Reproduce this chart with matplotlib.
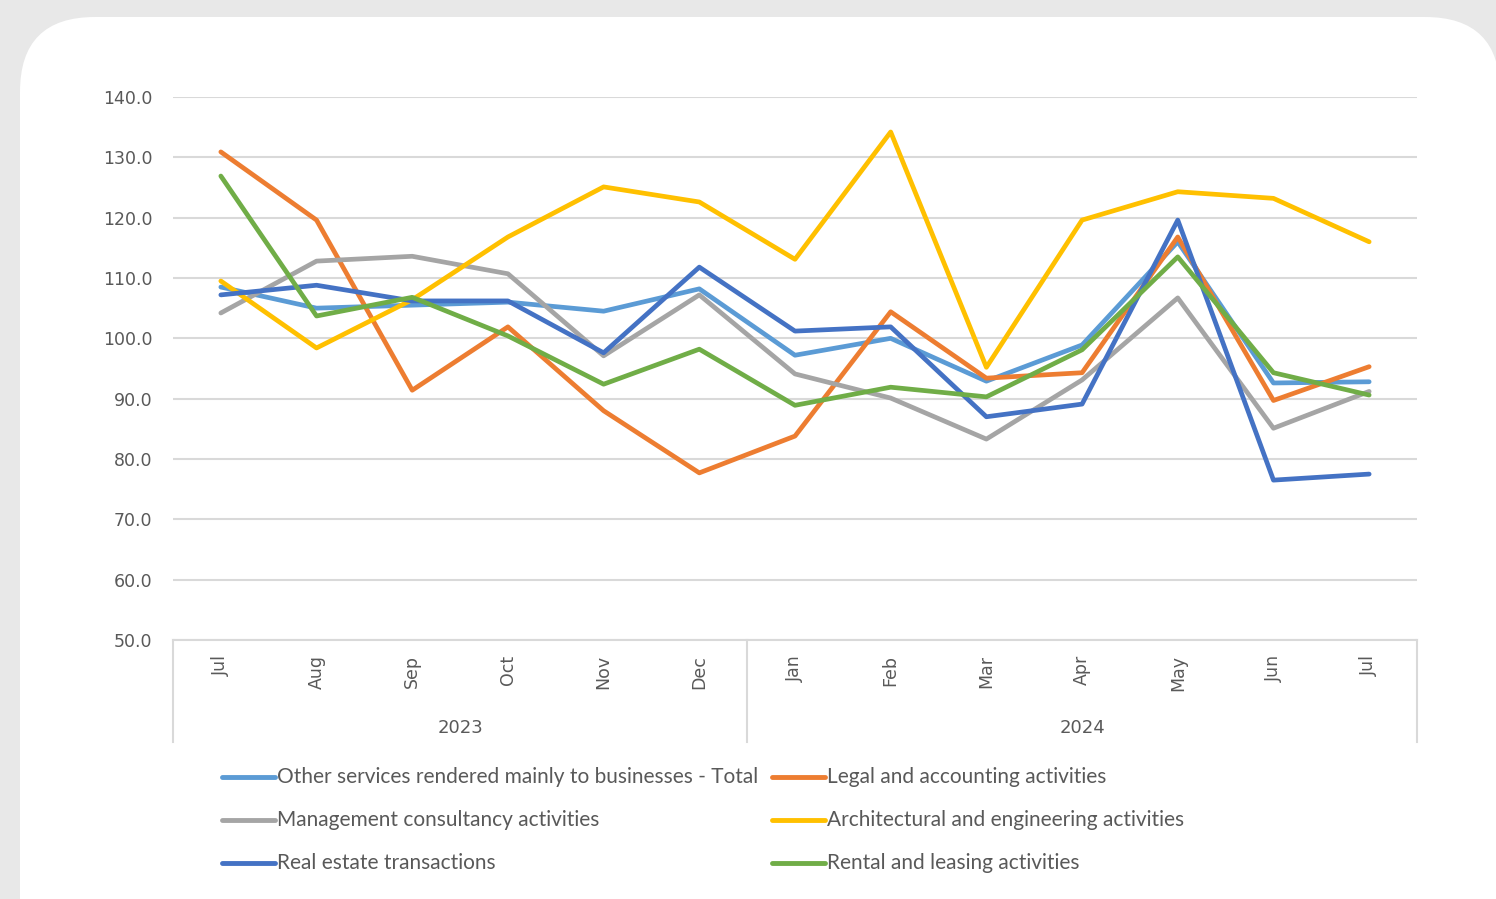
import matplotlib.pyplot as plt
import matplotlib.patches as mpatches
from matplotlib.lines import Line2D
import numpy as np

months = ['Jul', 'Aug', 'Sep', 'Oct', 'Nov', 'Dec',
          'Jan', 'Feb', 'Mar', 'Apr', 'May', 'Jun', 'Jul']
years = ['2023', '2024']
year_len = [6, 7]

total = [108.5, 105.0, 105.5, 106.0, 104.5, 108.2, 97.2, 100.0, 92.9, 98.9, 116.0, 92.6, 92.8]
legal = [130.9, 119.6, 91.4, 101.9, 88.0, 77.7, 83.8, 104.4, 93.4, 94.3, 116.8, 89.7, 95.3]
mgmt = [104.2, 112.8, 113.6, 110.7, 97.1, 107.2, 94.1, 90.1, 83.3, 93.1, 106.7, 85.1, 91.2]
arch = [109.5, 98.4, 106.4, 116.8, 125.1, 122.6, 113.1, 134.2, 95.2, 119.6, 124.3, 123.2, 116.0]
real_estate = [107.2, 108.8, 106.2, 106.2, 97.6, 111.8, 101.2, 101.9, 87.0, 89.1, 119.6, 76.5, 77.5]
rental = [126.9, 103.7, 106.8, 100.4, 92.4, 98.2, 88.9, 91.9, 90.3, 98.1, 113.5, 94.3, 90.6]

names = ['Other services rendered mainly to businesses - Total',
         'Legal and accounting activities',
         'Management consultancy activities',
         'Architectural and engineering activities',
         'Real estate transactions',
         'Rental and leasing activities']
series = [total, legal, mgmt, arch, real_estate, rental]
colors = ['#5B9BD5', '#ED7D31', '#A5A5A5', '#FFC000', '#4472C4', '#70AD47']

W, H = 1496, 899
fig = plt.figure(figsize=(W / 100, H / 100), dpi=100)
fig.patch.set_facecolor('#E8E8E8')

# white card behind the chart
card = mpatches.FancyBboxPatch((20 / W, -0.2), (1500 - 20) / W, 1.2 - 17 / H,
                               boxstyle=mpatches.BoxStyle('Round', pad=0, rounding_size=0.05),
                               transform=fig.transFigure, facecolor='white',
                               edgecolor='none', zorder=-10, mutation_aspect=W / H)
fig.patches.append(card)

ax = fig.add_axes([173 / W, 1 - 640 / H, 1244 / W, 543 / H])
ax.set_facecolor('none')
x = np.arange(len(months))
for vals, c in zip(series, colors):
    ax.plot(x, vals, color=c, lw=3.4, solid_capstyle='round', solid_joinstyle='round', zorder=3)

ax.set_xlim(-0.5, len(months) - 0.5)
ax.set_ylim(50, 140)
ax.set_yticks(np.arange(50, 141, 10))
ax.set_yticklabels([f'{v:.1f}' for v in np.arange(50, 141, 10)])
ax.yaxis.grid(True, color='#D9D9D9', lw=1.5)
ax.set_axisbelow(True)
for s in ['top', 'right', 'left']:
    ax.spines[s].set_visible(False)
ax.spines['bottom'].set_color('#D9D9D9')
ax.spines['bottom'].set_linewidth(1.5)
ax.tick_params(axis='y', length=0, pad=15, labelsize=12.5, labelcolor='#595959')
ax.set_xticks([])

# two-level category axis
tc = '#595959'
for i, m in enumerate(months):
    ax.text(i, -0.028, m, rotation=90, ha='center', va='top', fontsize=12.5, color=tc,
            transform=ax.get_xaxis_transform())
sep_y = -(742 - 640) / 543
start = 0
bounds = [-0.5]
for yr, n in zip(years, year_len):
    ax.text(start + (n - 1) / 2, -(728 - 640) / 543, yr, ha='center', va='center',
            fontsize=13, color=tc, transform=ax.get_xaxis_transform())
    start += n
    bounds.append(start - 0.5)
for b in bounds:
    ax.plot([b, b], [0, sep_y], color='#D9D9D9', lw=1.5, clip_on=False,
            transform=ax.get_xaxis_transform())

# legend, laid out in rows of two
col_x = [222, 772]
row_y = [777, 820, 863]
for k, (name, c) in enumerate(zip(names, colors)):
    r, col = divmod(k, 2)
    x0 = col_x[col]
    y0 = 1 - row_y[r] / H
    fig.add_artist(Line2D([x0 / W, (x0 + 53) / W], [y0, y0], color=c, lw=3.5,
                          solid_capstyle='round', transform=fig.transFigure))
    fig.text((x0 + 55) / W, y0, name, ha='left', va='center', fontsize=15,
             family='Lato', color=tc)

fig.savefig('out.png', dpi=100, facecolor=fig.get_facecolor())
